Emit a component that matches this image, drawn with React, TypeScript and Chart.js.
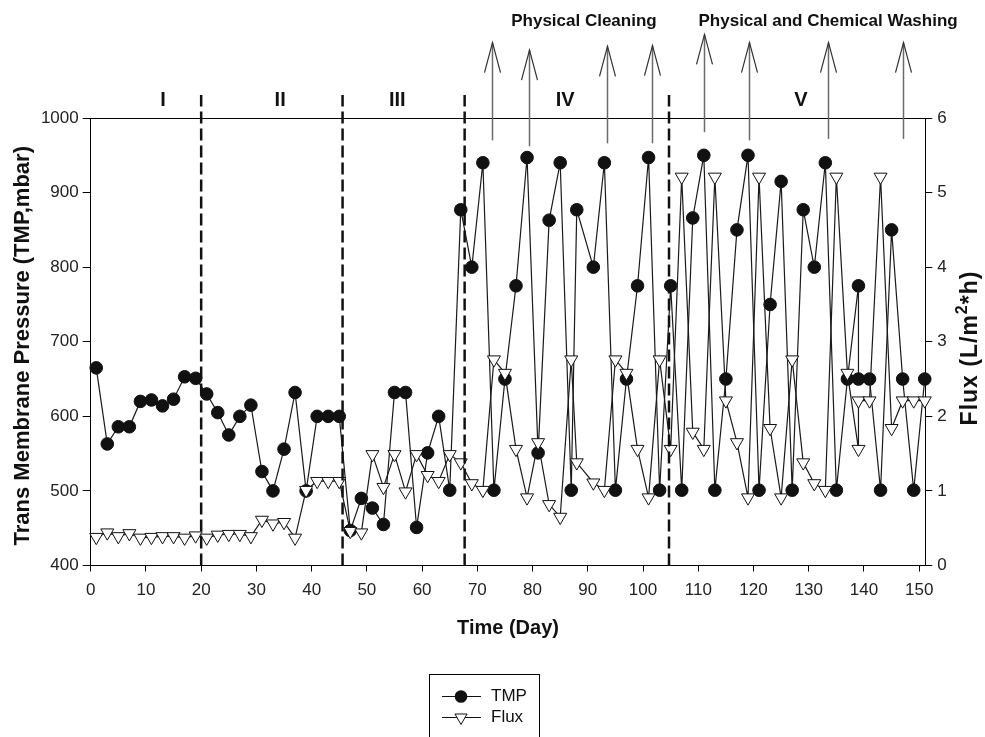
import React, { useEffect, useRef } from "react";
import { Chart, registerables } from "chart.js";

Chart.register(...registerables);

// ---- data ----
const tmpDays = [1, 3, 5, 7, 9, 11, 13, 15, 17, 19, 21, 23, 25, 27, 29, 31, 33, 35, 37, 39, 41, 43, 45, 47, 49, 51, 53, 55, 57, 59, 61, 63, 65, 67, 69, 71, 73, 75, 77, 79, 81, 83, 85, 87, 88, 91, 93, 95, 97, 99, 101, 103, 105, 107, 109, 111, 113, 115, 117, 119, 121, 123, 125, 127, 129, 131, 133, 135, 137, 139, 139, 141, 143, 145, 147, 149, 151];
const tmpValues = [665, 563, 586, 586, 620, 622, 614, 623, 653, 651, 630, 605, 575, 600, 615, 526, 500, 556, 632, 500, 600, 600, 600, 447, 490, 477, 455, 632, 632, 451, 551, 600, 501, 877, 800, 940, 501, 650, 775, 947, 551, 863, 940, 501, 877, 800, 940, 501, 650, 775, 947, 501, 775, 501, 866, 950, 501, 650, 850, 950, 501, 750, 915, 501, 877, 800, 940, 501, 650, 775, 650, 650, 501, 850, 650, 501, 650];

const fluxDays = [1, 3, 5, 7, 9, 11, 13, 15, 17, 19, 21, 23, 25, 27, 29, 31, 33, 35, 37, 39, 41, 43, 45, 47, 49, 51, 53, 55, 57, 59, 61, 63, 65, 67, 69, 71, 73, 75, 77, 79, 81, 83, 85, 87, 88, 91, 93, 95, 97, 99, 101, 103, 105, 107, 109, 111, 113, 115, 117, 119, 121, 123, 125, 127, 129, 131, 133, 135, 137, 139, 139, 141, 143, 145, 147, 149, 151];
const fluxValues = [0.38, 0.44, 0.39, 0.43, 0.37, 0.38, 0.39, 0.39, 0.37, 0.40, 0.37, 0.41, 0.42, 0.42, 0.39, 0.61, 0.56, 0.58, 0.37, 1.01, 1.13, 1.13, 1.13, 0.46, 0.44, 1.49, 1.05, 1.49, 0.99, 1.49, 1.21, 1.13, 1.49, 1.38, 1.10, 1.01, 2.76, 2.58, 1.56, 0.91, 1.65, 0.82, 0.65, 2.76, 1.38, 1.11, 1.01, 2.76, 2.58, 1.56, 0.91, 2.76, 1.56, 5.21, 1.79, 1.56, 5.21, 2.21, 1.65, 0.91, 5.21, 1.84, 0.91, 2.76, 1.38, 1.10, 1.01, 5.21, 2.58, 1.56, 2.21, 2.21, 5.21, 1.84, 2.21, 2.21, 2.21];

const xTicks = [0, 10, 20, 30, 40, 50, 60, 70, 80, 90, 100, 110, 120, 130, 140, 150];
const yLeftTicks = [400, 500, 600, 700, 800, 900, 1000];
const yRightTicks = [0, 1, 2, 3, 4, 5, 6];

// phase dividers & labels
const phaseDividerDays = [20, 45.6, 67.7, 104.7];
const phaseDividerTop = 1031;
const phaseLabels = ["I", "II", "III", "IV", "V"];
const phaseLabelDays = [13.1, 34.3, 55.5, 85.9, 128.6];
const phaseLabelLevel = 1024;

// cleaning arrows
const arrowDays = [72.65, 79.4, 93.4, 101.7, 111.0, 119.2, 133.5, 147.1];
const arrowTips = [1101, 1091, 1096, 1097, 1112, 1101, 1101, 1101];
const arrowBases = [970, 962, 966, 966, 981, 970, 972, 972];
const cleaningLabels = ["Physical Cleaning", "Physical and Chemical Washing"];
const cleaningLabelDays = [89.3, 133.5];
const cleaningLabelLevel = 1129;

const FONT = "'Liberation Sans', Arial, Helvetica, sans-serif";

const decorPlugin = {
  id: "decor",
  afterDatasetsDraw(chart: any) {
    const ctx = chart.ctx;
    const ca = chart.chartArea;
    const xs = chart.scales.x;
    const ys = chart.scales.y;
    ctx.save();

    // top frame line
    ctx.strokeStyle = "#000";
    ctx.lineWidth = 1;
    ctx.beginPath();
    ctx.moveTo(ca.left, Math.round(ca.top) + 0.5);
    ctx.lineTo(ca.right, Math.round(ca.top) + 0.5);
    ctx.stroke();

    // dashed phase dividers
    ctx.setLineDash([12, 5]);
    ctx.lineWidth = 2.5;
    ctx.strokeStyle = "#111";
    phaseDividerDays.forEach((d) => {
      const x = xs.getPixelForValue(d);
      ctx.beginPath();
      ctx.moveTo(x, ys.getPixelForValue(400));
      ctx.lineTo(x, ys.getPixelForValue(phaseDividerTop));
      ctx.stroke();
    });
    ctx.setLineDash([]);

    // arrows
    arrowDays.forEach((d, i) => {
      const x = Math.round(xs.getPixelForValue(d)) + 0.5;
      const yt = ys.getPixelForValue(arrowTips[i]);
      const yb = ys.getPixelForValue(arrowBases[i]);
      ctx.strokeStyle = "#6a6a6a";
      ctx.lineWidth = 1.5;
      ctx.beginPath();
      ctx.moveTo(x, yb);
      ctx.lineTo(x, yt);
      ctx.stroke();
      ctx.strokeStyle = "#333";
      ctx.lineWidth = 1.2;
      ctx.beginPath();
      ctx.moveTo(x - 8, yt + 30);
      ctx.lineTo(x, yt);
      ctx.lineTo(x + 8, yt + 30);
      ctx.stroke();
    });

    // phase labels
    ctx.fillStyle = "#111";
    ctx.font = `bold 20px ${FONT}`;
    ctx.textAlign = "center";
    ctx.textBaseline = "middle";
    phaseLabels.forEach((t, i) => {
      ctx.fillText(t, xs.getPixelForValue(phaseLabelDays[i]), ys.getPixelForValue(phaseLabelLevel));
    });

    // cleaning labels
    ctx.font = `bold 17px ${FONT}`;
    cleaningLabels.forEach((t, i) => {
      ctx.fillText(t, xs.getPixelForValue(cleaningLabelDays[i]), ys.getPixelForValue(cleaningLabelLevel));
    });

    // axis titles
    ctx.font = `bold 20px ${FONT}`;
    ctx.fillText("Time (Day)", (ca.left + ca.right) / 2, 628);

    ctx.save();
    ctx.translate(23, (ca.top + ca.bottom) / 2 + 4);
    ctx.rotate(-Math.PI / 2);
    ctx.font = `bold 22px ${FONT}`;
    ctx.fillText("Trans Membrane Pressure (TMP,mbar)", 0, 0);
    ctx.restore();

    // right title with superscript
    ctx.save();
    ctx.translate(971, 348);
    ctx.rotate(-Math.PI / 2);
    ctx.textAlign = "left";
    const spacing = 1;
    const p1 = "Flux (L/m";
    const sup = "2";
    const p2 = "*h)";
    const drawSpaced = (t: string, x0: number, y0: number) => {
      let x = x0;
      for (const ch of t) {
        ctx.fillText(ch, x, y0);
        x += ctx.measureText(ch).width + spacing;
      }
      return x - x0;
    };
    const measureSpaced = (t: string) => {
      let w = 0;
      for (const ch of t) w += ctx.measureText(ch).width + spacing;
      return w;
    };
    ctx.font = `bold 23px ${FONT}`;
    const w1 = measureSpaced(p1);
    const w3 = measureSpaced(p2);
    ctx.font = `bold 16px ${FONT}`;
    const w2 = measureSpaced(sup);
    let cx = -(w1 + w2 + w3) / 2;
    ctx.font = `bold 23px ${FONT}`;
    cx += drawSpaced(p1, cx, 0);
    ctx.font = `bold 16px ${FONT}`;
    cx += drawSpaced(sup, cx, -8);
    ctx.font = `bold 23px ${FONT}`;
    drawSpaced(p2, cx, 0);
    ctx.restore();

    // legend
    const lx = 429.5, ly = 674.5, lw = 110, lh = 80;
    ctx.strokeStyle = "#000";
    ctx.lineWidth = 1;
    ctx.strokeRect(lx, ly, lw, lh);
    const rows = [
      { label: chart.data.datasets[1].label, y: 696.5, style: "circle" },
      { label: chart.data.datasets[0].label, y: 717.5, style: "triangle" },
    ];
    rows.forEach((r) => {
      ctx.strokeStyle = "#111";
      ctx.lineWidth = 1;
      ctx.beginPath();
      ctx.moveTo(442, r.y);
      ctx.lineTo(481, r.y);
      ctx.stroke();
      const mx = 461;
      if (r.style === "circle") {
        ctx.fillStyle = "#111";
        ctx.beginPath();
        ctx.arc(mx, r.y, 6.3, 0, Math.PI * 2);
        ctx.fill();
      } else {
        const rad = 7;
        ctx.fillStyle = "#fff";
        ctx.beginPath();
        ctx.moveTo(mx, r.y + rad);
        ctx.lineTo(mx - rad * 0.866, r.y - rad / 2);
        ctx.lineTo(mx + rad * 0.866, r.y - rad / 2);
        ctx.closePath();
        ctx.fill();
        ctx.stroke();
      }
      ctx.fillStyle = "#111";
      ctx.font = `17px ${FONT}`;
      ctx.textAlign = "left";
      ctx.textBaseline = "middle";
      ctx.fillText(r.label, 491, r.y);
    });

    ctx.restore();
  },
};

export default function App() {
  const ref = useRef<HTMLCanvasElement | null>(null);

  useEffect(() => {
    if (!ref.current) return;
    const tickFont = { family: FONT, size: 17 };
    const plain = (v: any) => String(v);
    const chart = new Chart(ref.current, {
      type: "line",
      data: {
        datasets: [
          {
            label: "Flux",
            data: fluxDays.map((d, i) => ({ x: d, y: fluxValues[i] })),
            yAxisID: "y1",
            borderColor: "#1a1a1a",
            borderWidth: 1.2,
            pointStyle: "triangle",
            pointRotation: 180,
            pointRadius: 7.5,
            pointBackgroundColor: "#fff",
            pointBorderColor: "#111",
            pointBorderWidth: 1,
            tension: 0,
            clip: false,
            order: 0,
          },
          {
            label: "TMP",
            data: tmpDays.map((d, i) => ({ x: d, y: tmpValues[i] })),
            yAxisID: "y",
            borderColor: "#1a1a1a",
            borderWidth: 1.2,
            pointStyle: "circle",
            pointRadius: 6.3,
            pointBackgroundColor: "#111",
            pointBorderColor: "#111",
            pointBorderWidth: 1,
            tension: 0,
            clip: false,
            order: 1,
          },
        ],
      } as any,
      options: {
        animation: false,
        responsive: false,
        maintainAspectRatio: false,
        layout: { padding: { top: 118, left: 0, right: 0, bottom: 0 } },
        plugins: { legend: { display: false }, tooltip: { enabled: false } },
        scales: {
          x: {
            type: "linear",
            min: 0,
            max: 151.1,
            afterBuildTicks: (s: any) => {
              s.ticks = xTicks.map((v) => ({ value: v }));
            },
            afterFit: (s: any) => {
              s.height = 171.5;
            },
            grid: { display: true, drawOnChartArea: false, drawTicks: true, tickLength: 6, color: "#000" },
            border: { display: true, color: "#000", width: 1 },
            ticks: { font: tickFont, color: "#222", padding: 9, maxRotation: 0, autoSkip: false, callback: plain },
          },
          y: {
            type: "linear",
            position: "left",
            min: 400,
            max: 1000,
            afterBuildTicks: (s: any) => {
              s.ticks = yLeftTicks.map((v) => ({ value: v }));
            },
            afterFit: (s: any) => {
              s.width = 90.7;
            },
            grid: { display: true, drawOnChartArea: false, drawTicks: true, tickLength: 8, color: "#000" },
            border: { display: true, color: "#000", width: 1 },
            ticks: { font: tickFont, color: "#222", padding: 4, autoSkip: false, callback: plain },
          },
          y1: {
            type: "linear",
            position: "right",
            min: 0,
            max: 6,
            afterBuildTicks: (s: any) => {
              s.ticks = yRightTicks.map((v) => ({ value: v }));
            },
            afterFit: (s: any) => {
              s.width = 59.7;
            },
            grid: { display: true, drawOnChartArea: false, drawTicks: true, tickLength: 7, color: "#000" },
            border: { display: true, color: "#000", width: 1 },
            ticks: { font: tickFont, color: "#222", padding: 5, autoSkip: false, callback: plain },
          },
        },
      } as any,
      plugins: [decorPlugin],
    });
    return () => chart.destroy();
  }, []);

  return (
    <div style={{ position: "absolute", left: 0, top: 0, width: 985, height: 737, background: "#fff" }}>
      <canvas ref={ref} width={985} height={737} style={{ width: 985, height: 737, display: "block" }} />
    </div>
  );
}
